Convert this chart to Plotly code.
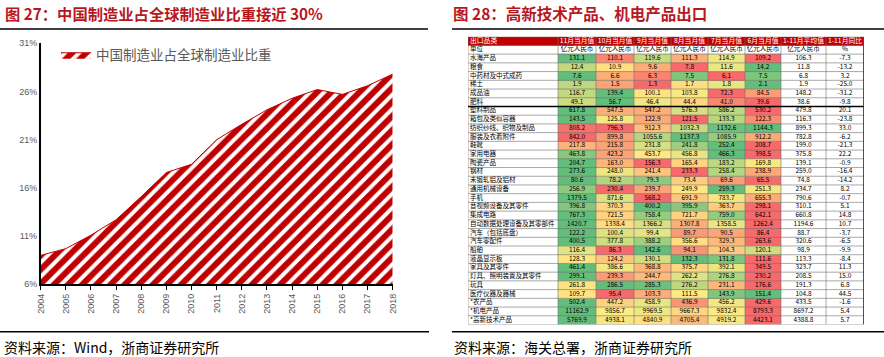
import plotly.graph_objects as go

W, H = 884, 357

# ---------------- Left chart data ----------------
years = [2004, 2005, 2006, 2007, 2008, 2009, 2010, 2011, 2012, 2013, 2014, 2015, 2016, 2017, 2018]
china_share = [9.0, 9.7, 11.1, 12.7, 15.1, 17.6, 18.45, 21.0, 22.6, 24.1, 25.3, 26.2, 25.7, 26.6, 27.8]
series_name = "中国制造业占全球制造业比重"

# ---------------- Right table data ----------------
col_headers = ["出口品类", "11月当月值", "10月当月值", "9月当月值", "8月当月值", "7月当月值", "6月当月值", "1-11月平均值", "1-11月同比"]
unit_row = ["单位", "亿元人民币", "亿元人民币", "亿元人民币", "亿元人民币", "亿元人民币", "亿元人民币", "亿元人民币", "%"]
products = ["水海产品", "粮食", "中药材及中式成药", "稀土", "成品油", "肥料", "塑料制品", "箱包及类似容器",
            "纺织纱线、织物及制品", "服装及衣着附件", "鞋靴", "家用电器", "陶瓷产品", "钢材", "未锻轧铝及铝材",
            "通用机械设备", "手机", "音视频设备及其零件", "集成电路", "自动数据处理设备及其零部件", "汽车（包括底盘）",
            "汽车零配件", "船舶", "液晶显示板", "家具及其零件", "灯具、照明装置及其零件", "玩具", "医疗仪器及器械",
            "*农产品", "*机电产品", "*高新技术产品"]
nov = [131.1, 12.4, 7.6, 1.9, 116.7, 49.1, 617.8, 143.5, 808.2, 842.0, 217.8, 463.8, 204.7, 273.6, 80.6, 256.9,
       1379.5, 396.8, 767.3, 1420.7, 122.2, 400.5, 116.4, 128.3, 461.4, 299.1, 261.8, 109.7, 502.4, 11162.9, 5769.9]
oct_ = [110.1, 10.9, 6.6, 1.5, 139.4, 56.7, 547.5, 125.8, 796.3, 899.8, 215.8, 423.2, 163.0, 248.0, 78.2, 230.4,
        871.6, 370.3, 721.5, 1338.4, 100.4, 377.8, 86.3, 124.2, 386.6, 239.3, 286.5, 95.4, 447.2, 9856.7, 4938.1]
sep = [119.6, 9.6, 6.3, 1.3, 100.1, 46.4, 547.2, 122.9, 912.3, 1055.6, 231.8, 453.7, 156.3, 241.4, 79.3, 239.7,
       568.2, 400.2, 758.4, 1366.2, 99.4, 388.2, 142.6, 130.1, 368.8, 244.7, 285.3, 103.3, 458.9, 9969.5, 4840.9]
aug = [111.3, 7.8, 7.5, 1.7, 103.8, 44.4, 576.3, 121.5, 1032.3, 1137.3, 241.8, 456.8, 165.4, 233.3, 73.4, 249.9,
       691.9, 395.9, 721.7, 1307.8, 89.7, 356.6, 94.1, 132.3, 375.7, 262.2, 276.2, 111.5, 436.9, 9667.3, 4705.4]
jul = [114.9, 11.6, 6.1, 1.8, 72.3, 41.0, 586.2, 133.3, 1132.6, 1085.9, 252.4, 466.3, 183.2, 258.4, 69.6, 259.3,
       783.7, 363.7, 759.0, 1358.5, 90.5, 329.3, 104.3, 131.8, 392.1, 276.8, 231.1, 143.9, 456.2, 9832.4, 4919.2]
jun = [109.2, 14.2, 7.5, 2.1, 84.5, 39.6, 530.2, 122.3, 1144.3, 912.2, 208.7, 398.5, 169.8, 238.9, 65.5, 251.3,
       655.3, 298.1, 642.1, 1262.4, 86.4, 263.6, 120.1, 111.6, 349.5, 230.2, 176.6, 151.4, 429.6, 8793.3, 4423.1]
avg_1_11 = [106.3, 11.8, 6.8, 1.9, 148.2, 38.6, 479.8, 116.3, 899.3, 782.8, 199.0, 375.8, 139.1, 259.0, 74.8, 234.7,
            790.6, 310.1, 660.8, 1194.6, 88.7, 320.6, 98.9, 113.3, 323.7, 208.5, 191.3, 104.8, 433.5, 8697.2, 4388.8]
yoy_1_11 = [-7.3, -13.2, 3.2, -25.0, -31.2, -9.8, 20.1, -23.8, 33.0, -6.2, -21.3, 22.2, -0.9, -16.4, -14.2, 8.2,
            -0.7, 5.1, 14.8, 10.7, -3.7, -6.5, -9.9, -8.4, 11.3, 15.0, 6.8, 44.5, -1.6, 5.4, 5.7]

monthly = [nov, oct_, sep, aug, jul, jun]

# ---------------- helpers ----------------
def px_x(x):
    return x / W


def px_y(y):
    return (H - y) / H


def scale_pos(v, row):
    """Excel 3-colour scale position (min -> 0, median -> 0.5, max -> 1)."""
    s = sorted(row)
    lo, hi = s[0], s[-1]
    mid = (s[2] + s[3]) / 2
    if v <= mid:
        return 0.0 if mid == lo else 0.5 * (v - lo) / (mid - lo)
    return 1.0 if hi == mid else 0.5 + 0.5 * (v - mid) / (hi - mid)


def fmt(v):
    return "%.1f" % v


TITLE_RED = "#B8171E"
CJK = "Noto Sans CJK SC"

fig = go.Figure()

# ---------------- Left area chart ----------------
fig.add_trace(go.Scatter(
    x=years, y=china_share, name=series_name, mode="lines",
    fill="tozeroy", line=dict(color="#C00000", width=1),
    fillcolor="white",
    fillpattern=dict(shape="/", fgcolor="#C00000", bgcolor="white", fgopacity=1, size=10, solidity=0.6),
    xaxis="x", yaxis="y", hoverinfo="skip",
))

# ---------------- Right table (heatmap cells + text) ----------------
col_w = [90, 38, 38, 37, 37, 37, 36, 45, 38]
x_edges = [0]
for w in col_w:
    x_edges.append(x_edges[-1] + w)
n_rows = len(products) + 2  # header + unit row + data
y_edges = list(range(n_rows + 1))

z = []
for r in range(n_rows):
    row_z = [None] * len(col_w)
    if r >= 2:
        i = r - 2
        vals = [m[i] for m in monthly]
        for j in range(6):
            row_z[j + 1] = scale_pos(vals[j], vals)
    z.append(row_z)

fig.add_trace(go.Heatmap(
    x=x_edges, y=y_edges, z=z, zmin=0, zmax=1, showscale=False,
    colorscale=[[0, "#F8696B"], [0.5, "#FFEB84"], [1, "#63BE7B"]],
    xaxis="x2", yaxis="y2", hoverinfo="skip",
))
header_z = [[1] * len(col_w)] + [[None] * len(col_w) for _ in range(n_rows - 1)]
fig.add_trace(go.Heatmap(
    x=x_edges, y=y_edges, z=header_z, zmin=0, zmax=1, showscale=False,
    colorscale=[[0, "#C00000"], [1, "#C00000"]],
    xaxis="x2", yaxis="y2", hoverinfo="skip",
))

centers = [(x_edges[k] + x_edges[k + 1]) / 2 for k in range(len(col_w))]

# header text
fig.add_trace(go.Scatter(
    x=[x_edges[0] + 2], y=[0.5], text=[col_headers[0]], mode="text", textposition="middle right",
    textfont=dict(family=CJK, size=6.8, color="white"), xaxis="x2", yaxis="y2", hoverinfo="skip", showlegend=False,
))
fig.add_trace(go.Scatter(
    x=centers[1:], y=[0.5] * 8, text=col_headers[1:], mode="text", textposition="middle center",
    textfont=dict(family=CJK, size=6.8, color="white"), xaxis="x2", yaxis="y2", hoverinfo="skip", showlegend=False,
))

# first column
fig.add_trace(go.Scatter(
    x=[x_edges[0] + 2] * (n_rows - 1), y=[r + 0.5 for r in range(1, n_rows)],
    text=[unit_row[0]] + products, mode="text", textposition="middle right",
    textfont=dict(family=CJK, size=6.5, color="black"), xaxis="x2", yaxis="y2", hoverinfo="skip", showlegend=False,
))

# data columns
data_cols = monthly + [avg_1_11, yoy_1_11]
for j, series in enumerate(data_cols):
    fig.add_trace(go.Scatter(
        x=[centers[j + 1]] * (n_rows - 1), y=[r + 0.5 for r in range(1, n_rows)],
        text=[unit_row[j + 1]] + [fmt(v) for v in series], mode="text", textposition="middle center",
        textfont=dict(family=CJK, size=6.5, color="black"), xaxis="x2", yaxis="y2", hoverinfo="skip",
        showlegend=False,
    ))

# table grid lines
shapes = []
for xe in x_edges:
    shapes.append(dict(type="line", xref="x2", yref="y2", x0=xe, x1=xe, y0=0, y1=n_rows,
                       line=dict(color="#6E6E6E", width=0.6)))
for ye in y_edges:
    shapes.append(dict(type="line", xref="x2", yref="y2", x0=0, x1=x_edges[-1], y0=ye, y1=ye,
                       line=dict(color="#6E6E6E", width=0.6)))
shapes.append(dict(type="line", xref="x2", yref="y2", x0=0, x1=x_edges[-1], y0=8, y1=8,
                   line=dict(color="black", width=1.5)))
shapes.append(dict(type="line", xref="x2", yref="y2", x0=x_edges[-1], x1=x_edges[-1], y0=1, y1=n_rows,
                   line=dict(color="#333333", width=1.6)))

# section rules
shapes += [
    dict(type="line", xref="paper", yref="paper", x0=0, x1=px_x(428), y0=px_y(29), y1=px_y(29),
         line=dict(color="black", width=1.5)),
    dict(type="line", xref="paper", yref="paper", x0=px_x(452), x1=1, y0=px_y(29), y1=px_y(29),
         line=dict(color="black", width=1.5)),
    dict(type="line", xref="paper", yref="paper", x0=0, x1=px_x(429), y0=px_y(331.7), y1=px_y(331.7),
         line=dict(color="black", width=1.5)),
    dict(type="line", xref="paper", yref="paper", x0=px_x(452), x1=1, y0=px_y(331.7), y1=px_y(331.7),
         line=dict(color="black", width=1.5)),
]

annotations = [
    dict(text="<b>图 27：中国制造业占全球制造业比重接近 30%</b>", x=px_x(3), y=px_y(13), xref="paper", yref="paper",
         xanchor="left", yanchor="middle", showarrow=False, font=dict(family=CJK, size=15.3, color=TITLE_RED)),
    dict(text="<b>图 28：高新技术产品、机电产品出口</b>", x=px_x(451), y=px_y(13), xref="paper", yref="paper",
         xanchor="left", yanchor="middle", showarrow=False, font=dict(family=CJK, size=15.5, color=TITLE_RED)),
    dict(text="资料来源：Wind，浙商证券研究所", x=px_x(2), y=px_y(347), xref="paper", yref="paper",
         xanchor="left", yanchor="middle", showarrow=False, font=dict(family=CJK, size=14, color="black")),
    dict(text="资料来源：海关总署，浙商证券研究所", x=px_x(452), y=px_y(347), xref="paper", yref="paper",
         xanchor="left", yanchor="middle", showarrow=False, font=dict(family=CJK, size=14, color="black")),
]

fig.update_layout(
    width=W, height=H, margin=dict(l=0, r=0, t=0, b=0, autoexpand=False),
    paper_bgcolor="white", plot_bgcolor="white",
    showlegend=True,
    legend=dict(x=px_x(56), y=px_y(55), xanchor="left", yanchor="middle", bgcolor="rgba(0,0,0,0)",
                font=dict(family=CJK, size=13.5, color="#595959"), itemwidth=30),
    xaxis=dict(domain=[px_x(40.7), px_x(392.7)], anchor="y", range=[2004, 2018], tickmode="array",
               tickvals=years, ticktext=[str(y) for y in years], tickangle=-90,
               showline=True, linecolor="black", linewidth=1.5, ticks="outside", ticklen=4, tickcolor="black",
               showgrid=False, zeroline=False, tickfont=dict(family="Liberation Sans", size=9, color="#595959")),
    yaxis=dict(domain=[px_y(284.3), px_y(43.3)], anchor="x", range=[6, 31], dtick=5, tick0=6, ticksuffix="%",
               showline=True, linecolor="black", linewidth=1.5, ticks="", showgrid=False, zeroline=False,
               tickfont=dict(family="Liberation Sans", size=9, color="#595959")),
    xaxis2=dict(domain=[px_x(468), px_x(864)], anchor="y2", range=[0, x_edges[-1]], visible=False),
    yaxis2=dict(domain=[px_y(324.5), px_y(36.7)], anchor="x2", range=[n_rows, 0], visible=False),
    shapes=shapes, annotations=annotations,
)

fig.write_html("out.html", config={"displayModeBar": False},
               post_script="document.body.style.margin='0px';document.body.style.overflow='hidden';")
